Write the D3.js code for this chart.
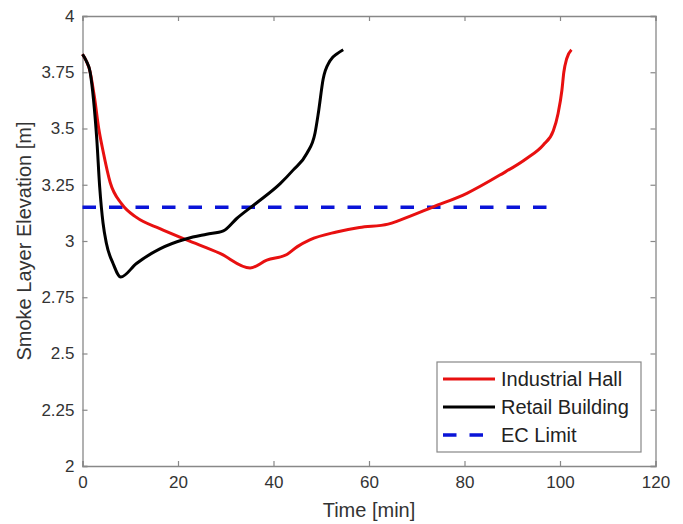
<!DOCTYPE html>
<html><head><meta charset="utf-8">
<script src="https://cdn.jsdelivr.net/npm/d3@7"></script>
<style>
body{margin:0;background:#fff;}
text{font-family:"Liberation Sans",Arial,sans-serif;fill:#333;}
</style></head>
<body><svg id="c" width="683" height="524"></svg>
<script>
const xTicks = [0,20,40,60,80,100,120];
const yTicks = [2,2.25,2.5,2.75,3,3.25,3.5,3.75,4];
const yTickLabels = ["2","2.25","2.5","2.75","3","3.25","3.5","3.75","4"];

const retailTime = [0,0.8,1.6,2.3,3.0,3.6,4.3,5.0,6.4,8.0,11.3,16.2,21.8,26.0,29.5,32.3,36.5,41.4,44.1,47.0,48.7,49.4,50.4,51.8,53.5,54.6];
const retailElev = [3.83,3.80,3.75,3.63,3.45,3.24,3.08,2.99,2.90,2.84,2.90,2.965,3.01,3.03,3.045,3.10,3.17,3.255,3.315,3.39,3.48,3.57,3.72,3.80,3.835,3.85];

const hallTime = [0,0.8,1.5,2.5,3.4,4.3,5.8,8.2,11.3,16.2,21.8,28.8,35.1,38.6,42.8,45,47.6,53.2,58,64,66.5,73.5,80.5,87.4,93.0,96.5,98.6,99.6,100.4,100.8,101.4,102.4];
const hallElev = [3.83,3.80,3.76,3.64,3.50,3.40,3.26,3.165,3.105,3.055,3.005,2.945,2.88,2.915,2.94,2.975,3.005,3.04,3.06,3.075,3.093,3.152,3.212,3.293,3.367,3.427,3.49,3.567,3.67,3.75,3.81,3.85];

const ecTime = [0, 98.8];
const ecElev = [3.15, 3.15];

const seriesNames = ["Industrial Hall","Retail Building","EC Limit"];

const L=82.5, R=655.5, T=16, B=466;
const svg = d3.select("#c");
const x = d3.scaleLinear().domain([0,120]).range([L,R]);
const y = d3.scaleLinear().domain([2,4]).range([B,T]);
const axCol = "#888";

// axes (ticks inward)
const gB = svg.append("g").attr("transform",`translate(0,${B})`)
  .call(d3.axisBottom(x).tickValues(xTicks).tickSize(-5).tickPadding(10).tickFormat(d3.format("d")));
const gT = svg.append("g").attr("transform",`translate(0,${T})`)
  .call(d3.axisTop(x).tickValues(xTicks).tickSize(-5).tickFormat(""));
const gL = svg.append("g").attr("transform",`translate(${L},0)`)
  .call(d3.axisLeft(y).tickValues(yTicks).tickSize(-5).tickPadding(8).tickFormat((d,i)=>yTickLabels[i]));
const gR = svg.append("g").attr("transform",`translate(${R},0)`)
  .call(d3.axisRight(y).tickValues(yTicks).tickSize(-5).tickFormat(""));
[gB,gT,gL,gR].forEach(g=>{
  g.select(".domain").attr("stroke",axCol).attr("stroke-width",1.3);
  g.selectAll(".tick line").attr("stroke",axCol).attr("stroke-width",1.2);
  g.selectAll(".tick text").style("font-size","17px").style("fill","#333").style("font-family","'Liberation Sans',Arial,sans-serif");
});

const line = d3.line().x(d=>x(d[0])).y(d=>y(d[1])).curve(d3.curveMonotoneX);
const zip = (a,b)=>a.map((v,i)=>[v,b[i]]);

svg.append("path").datum(zip(ecTime,ecElev)).attr("d",line)
  .attr("fill","none").attr("stroke","#0a14d8").attr("stroke-width",3.5).attr("stroke-dasharray","13.5,13");
svg.append("path").datum(zip(hallTime,hallElev)).attr("d",line)
  .attr("fill","none").attr("stroke","#e81010").attr("stroke-width",3).attr("stroke-linejoin","round");
svg.append("path").datum(zip(retailTime,retailElev)).attr("d",line)
  .attr("fill","none").attr("stroke","#000").attr("stroke-width",3).attr("stroke-linejoin","round");

// labels
svg.append("text").attr("x",(L+R)/2).attr("y",517).attr("text-anchor","middle")
  .style("font-size","20px").text("Time [min]");
svg.append("text").attr("transform",`translate(31,${(T+B)/2}) rotate(-90)`).attr("text-anchor","middle")
  .style("font-size","20px").text("Smoke Layer Elevation [m]");

// legend
const lg = svg.append("g");
lg.append("rect").attr("x",437).attr("y",362).attr("width",204).attr("height",90)
  .attr("fill","#fff").attr("stroke",axCol).attr("stroke-width",1.2);
const lgCols = ["#e81010","#000","#0a14d8"];
const lgDash = [null,null,"13.5,13"];
seriesNames.forEach((n,i)=>{
  const yy = 379 + i*28;
  lg.append("line").attr("x1",443).attr("x2",495).attr("y1",yy).attr("y2",yy)
    .attr("stroke",lgCols[i]).attr("stroke-width",i===2?3.5:3).attr("stroke-dasharray",lgDash[i]);
  lg.append("text").attr("x",501).attr("y",yy+7).style("font-size","20px").style("fill","#222").text(n);
});
</script></body></html>
